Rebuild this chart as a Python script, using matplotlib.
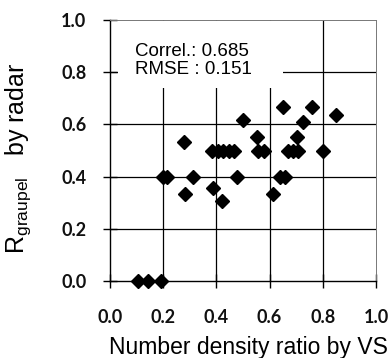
import matplotlib
matplotlib.use("Agg")
import matplotlib.pyplot as plt
from matplotlib.patches import Rectangle

x_vals = [0.106, 0.144, 0.192,
          0.200, 0.215,
          0.278, 0.282, 0.313,
          0.388, 0.420,
          0.385, 0.405, 0.426, 0.446, 0.466,
          0.476, 0.499,
          0.554, 0.558, 0.579,
          0.614, 0.639, 0.658,
          0.652, 0.670, 0.689, 0.708,
          0.702, 0.727, 0.758, 0.800, 0.850]
y_vals = [0.0, 0.0, 0.0,
          0.40, 0.40,
          0.533, 0.333, 0.40,
          0.357, 0.308,
          0.50, 0.50, 0.50, 0.50, 0.50,
          0.40, 0.615,
          0.550, 0.50, 0.50,
          0.333, 0.40, 0.40,
          0.667, 0.50, 0.50, 0.50,
          0.550, 0.611, 0.667, 0.50, 0.636]

ticks = [0.0, 0.2, 0.4, 0.6, 0.8, 1.0]
tick_labels = ["0.0", "0.2", "0.4", "0.6", "0.8", "1.0"]
stats_text = "Correl.: 0.685\nRMSE : 0.151"

fig = plt.figure(figsize=(3.89, 3.58), dpi=100)
ax = fig.add_axes([110/389, 1-281/358, 266/389, 261/358])

ax.set_xlim(0, 1)
ax.set_ylim(0, 1)
ax.set_xticks(ticks)
ax.set_yticks(ticks)
tick_font = dict(family="Lato", fontsize=13, weight="bold", color="#111111")
ax.set_xticklabels(tick_labels, **tick_font)
ax.set_yticklabels(tick_labels, **tick_font)
ax.tick_params(direction="inout", length=10, width=1, color="black")
ax.tick_params(axis="x", pad=15)
ax.tick_params(axis="y", pad=12)

for v in ticks[1:-1]:
    ax.axvline(v, color="black", lw=0.9, zorder=1)
    ax.axhline(v, color="black", lw=0.9, zorder=1)

ax.add_patch(Rectangle((0.03, 0.74), 0.62, 0.255, facecolor="white",
                       edgecolor="none", zorder=2))
ax.text(0.094, 0.845, stats_text, fontsize=13.5, family="Liberation Sans",
        va="center", ha="left", linespacing=1.1, zorder=3)

ax.plot(x_vals, y_vals, linestyle="none", marker="D", ms=7,
        color="black", zorder=4, clip_on=False)

for s in ["left", "bottom"]:
    ax.spines[s].set_color("black")
    ax.spines[s].set_linewidth(1.0)
for s in ["top", "right"]:
    ax.spines[s].set_color("#777777")
    ax.spines[s].set_linewidth(0.7)

ax.set_xlabel("Number density ratio by VS", family="Liberation Sans",
              fontsize=16.5)
ax.xaxis.set_label_coords(0.52, -0.209)
ax.set_ylabel(r"R$_{\mathregular{graupel}}$   by radar", family="Liberation Sans",
              fontsize=18)
ax.yaxis.set_label_coords(-0.29, 0.47)

fig.savefig("out.png", dpi=100)
